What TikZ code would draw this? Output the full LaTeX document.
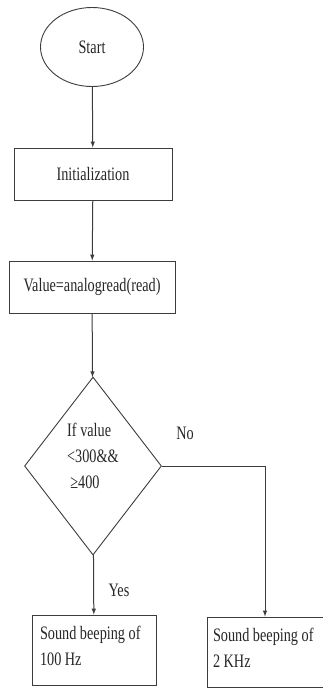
\documentclass[tikz,border=0pt]{standalone}
\usepackage{fontspec}
\usetikzlibrary{arrows}
\usetikzlibrary{shapes.geometric}
\newfontfamily\chartfont[FakeStretch=0.75]{Liberation Serif}
\definecolor{linegrey}{RGB}{60,60,60}
\tikzset{
  chart/.style={font=\chartfont\fontsize{19}{26}\selectfont, text=black!85},
  startnode/.style={chart, draw=linegrey, line width=0.9pt, ellipse, minimum width=103, minimum height=79, inner sep=0},
  procbox/.style={chart, draw=linegrey, line width=1pt, rectangle, inner sep=0},
  decision/.style={chart, draw=linegrey, line width=0.9pt, diamond, minimum width=129, minimum height=178, inner sep=0, align=left},
  flow/.style={draw=linegrey, line width=1pt, -latex}
}

\begin{document}
\begin{tikzpicture}[x=1pt, y=-1pt]
  \useasboundingbox (0, 0) rectangle (323, 689);

  \node[startnode] (start) at (92, 47) {Start};
  \node[procbox, minimum width=158, minimum height=52] (init) at (93, 174) {Initialization};
  \node[procbox, minimum width=166, minimum height=52] (read) at (92, 287) {Value=analogread(read)};
  \node[decision] (cond) at (93, 466) {If value\\<300\&\&\\\,≥400\\[-6pt]};
  \node[procbox, minimum width=124, minimum height=70, text width=108, align=flush left] (low) at (94, 650) {Sound beeping of\\100 Hz\strut};
  \node[procbox, minimum width=116, minimum height=70, text width=104, align=flush left] (high) at (265, 652) {Sound beeping of\\2 KHz\strut};

  \node[chart] (no) at (185, 433) {No};
  \node[chart] (yes) at (119, 590) {Yes};

  \draw[flow] (start) -- (init);
  \draw[flow] (init) -- (read);
  \draw[flow] (read) -- (cond);
  \draw[flow] (cond) -- (low);
  \draw[flow] (cond.east) -| (high.north);

\end{tikzpicture}
\end{document}
